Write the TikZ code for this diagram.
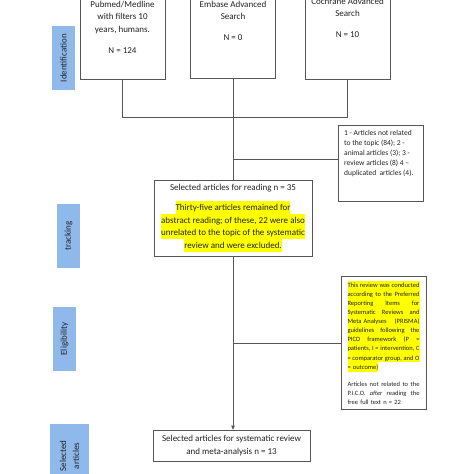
\documentclass[tikz,border=0pt]{standalone}
\usepackage{fontspec}
\setmainfont{Carlito}
\usetikzlibrary{arrows.meta}
\definecolor{lblue}{RGB}{143,185,235}
\definecolor{edgec}{RGB}{85,85,85}
\definecolor{hly}{RGB}{255,255,0}
\definecolor{txtc}{RGB}{35,35,35}
\setlength{\fboxsep}{0pt}
\newcommand{\hlA}[1]{\colorbox{hly}{\rule[-3.3pt]{0pt}{12.6pt}#1}}
\newcommand{\hlB}[1]{\colorbox{hly}{\rule[-2.4pt]{0pt}{9.1pt}#1}}
\newcommand{\jl}[1]{\leavevmode\hbox to 72pt{#1}}
\newcommand{\g}{\hfill}
\tikzset{
  boxst/.style={draw=edgec, line width=0.8pt, fill=white, inner sep=0pt},
  txtnine/.style={font=\fontsize{9}{12.5}\selectfont, text=txtc, inner sep=0pt, align=center},
  stage/.style={fill=lblue, inner sep=0pt, minimum width=64pt, minimum height=23pt, rotate=90,
    font=\fontsize{9}{13}\selectfont, text=txtc, align=center},
  conn/.style={draw=edgec, line width=0.8pt},
}
\begin{document}
\begin{tikzpicture}[x=1pt,y=-1pt]
\useasboundingbox (0,0) rectangle (474,474);
\clip (0,0) rectangle (474,474);
\fill[white] (0,0) rectangle (474,474);

% stage labels
\node[stage] (s1) at (63.5,58) {Identification};
\node[stage] (s2) at (68.5,236) {tracking};
\node[stage] (s3) at (64.5,339) {Eligibility};
\node[stage, minimum height=39pt] (s4) at (69.5,456) {Selected\\articles};

% source boxes
\node[boxst, minimum width=85pt, minimum height=104pt] (pub) at (122.5,27) {};
\node[boxst, minimum width=85pt, minimum height=104pt] (emb) at (233,26) {};
\node[boxst, minimum width=85pt, minimum height=104pt] (coch) at (347.5,27.5) {};
\node[txtnine] (pubt) at (122.5,27.2) {Pubmed/Medline\\with filters 10\\years, humans.\\[8.2pt]N = 124};
\node[txtnine] (embt) at (233,21) {Embase Advanced\\Search\\[8.6pt]N = 0};
\node[txtnine] (cocht) at (347.5,18) {Cochrane Advanced\\Search\\[8.3pt]N = 10};

% selected for reading
\node[boxst, minimum width=158pt, minimum height=76pt, font=\fontsize{9}{12.6}\selectfont, text=txtc, align=center] (sel) at (233,218)
  {Selected articles for reading n = 35\\[7.7pt]
   \hlA{Thirty-five articles remained for}\\
   \hlA{abstract reading; of these, 22 were also}\\
   \hlA{unrelated to the topic of the systematic}\\
   \hlA{review and were excluded.}};

% exclusion box 1
\node[boxst, minimum width=85pt, minimum height=76pt] (ex1) at (380.5,163) {};
\node[font=\fontsize{7.5}{10}\selectfont, text=txtc, inner sep=0pt, align=left, anchor=west] (ex1t) at (344,153)
  {1 - Articles not related\\to the topic (84); 2 -\\animal articles (3); 3 -\\review articles (8) 4 --\\duplicated\ \ articles (4).};

% PRISMA box
\node[boxst, minimum width=85pt, minimum height=133pt, font=\fontsize{6.5}{9.1}\selectfont, text=txtc,
      align=left, text width=72pt, inner xsep=6.5pt] (pr) at (383.5,342.5)
  {\hlB{\jl{This\g review\g was\g conducted}}\\
   \hlB{\jl{according\g to\g the\g Preferred}}\\
   \hlB{\jl{Reporting\g Items\g for}}\\
   \hlB{\jl{Systematic\g Reviews\g and}}\\
   \hlB{\jl{Meta Analyses\g (PRISMA)}}\\
   \hlB{\jl{guidelines\g following\g the}}\\
   \hlB{\jl{PICO\g framework\g (P\g =}}\\
   \hlB{\jl{patients,\g I\g =\g intervention,\g C}}\\
   \hlB{\jl{=\g comparator\g group,\g and\g O}}\\
   \hlB{= outcome)}\\[8pt]
   \jl{Articles\g not\g related\g to\g the}\\
   \jl{P.I.C.O.\g \textit{after}\g reading\g the}\\
   free full text n = 22};

% final box
\node[boxst, minimum width=157pt, minimum height=31pt, font=\fontsize{9}{12.7}\selectfont, text=txtc, align=center] (fin) at (231.5,445.5)
  {Selected articles for systematic review\\and meta-analysis n = 13};

% connectors
\coordinate (j) at (233,117.3);
\coordinate (b1) at (233,159);
\coordinate (b2) at (233.5,343);
\draw[conn] (pub.south) |- (j) -| (coch.south);
\draw[conn] (emb.south) -- (sel.north);
\draw[conn] (b1) -- (b1 -| ex1.west);
\draw[conn, -{Triangle[length=4pt,width=3.6pt]}] (sel.south) -- (sel.south |- fin.north);
\draw[conn] (b2) -- (b2 -| pr.west);
\end{tikzpicture}
\end{document}
